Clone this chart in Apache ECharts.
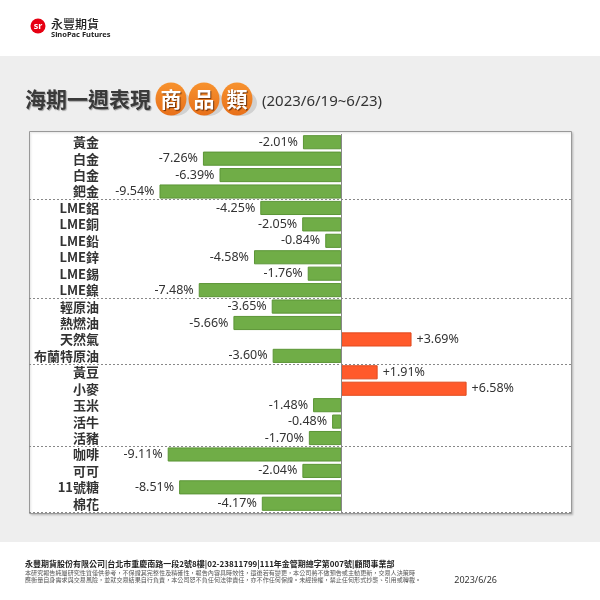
<!DOCTYPE html>
<html><head><meta charset="utf-8">
<script src="https://cdn.jsdelivr.net/npm/echarts@6/dist/echarts.min.js"></script>
<style>html,body{margin:0;padding:0;background:#fff}#c{width:600px;height:600px}</style>
</head><body><div id="c"></div>
<script>
const categories = ['黃金','白金','白金','鈀金','LME鋁','LME銅','LME鉛','LME鋅','LME錫','LME鎳','輕原油','熱燃油','天然氣','布蘭特原油','黃豆','小麥','玉米','活牛','活豬','咖啡','可可','11號糖','棉花'];
const changes = [-2.01,-7.26,-6.39,-9.54,-4.25,-2.05,-0.84,-4.58,-1.76,-7.48,-3.65,-5.66,3.69,-3.60,1.91,6.58,-1.48,-0.48,-1.70,-9.11,-2.04,-8.51,-4.17];
const groupStarts = [4,10,14,19];
const titleMain = '海期一週表現';
const titleBadges = ['商','品','類'];
const titleDate = '(2023/6/19~6/23)';
const footerLine1 = '永豐期貨股份有限公司|台北市重慶南路一段2號8樓|02-23811799|111年金管期總字第007號|顧問事業部';
const footerLine2 = '本研究報告純屬研究性質僅供參考，不保證其完整性及精確性，報告內容具時效性，還後若有變更，本公司將不做預告或主動更新，交易人決策時';
const footerLine3 = '應衡量自身需求與交易風險，並就交易結果自行負責，本公司恕不負任何法律責任，亦不作任何保證。未經授權，禁止任何形式抄襲、引用或轉載。';
const footerDate = '2023/6/26';

const GREEN = '#70AD47', GREEN_B = '#5B9536';
const ORANGE = '#FF5A2B', ORANGE_B = '#E04A1E';
const CJK = '"Noto Sans CJK TC","Noto Sans",sans-serif';
const NUM = '"Noto Sans","Noto Sans CJK TC",sans-serif';

const barData = changes.map(v => ({
  value: v,
  itemStyle: { color: v < 0 ? GREEN : ORANGE, borderColor: v < 0 ? GREEN_B : ORANGE_B, borderWidth: 1 },
  label: { position: v < 0 ? 'left' : 'right' }
}));

const badgeGraphics = [];
const badgeX = [171, 204, 237];
titleBadges.forEach((ch, i) => {
  badgeGraphics.push({ type:'ellipse', shape:{cx:badgeX[i]+4, cy:103, rx:16, ry:13}, style:{fill:'rgba(0,0,0,0.12)'}, z:1 });
  badgeGraphics.push({ type:'ellipse', shape:{cx:badgeX[i], cy:99, rx:15.5, ry:16.5},
    style:{ fill:{type:'linear',x:0,y:0,x2:0,y2:1,colorStops:[{offset:0,color:'#F7922E'},{offset:1,color:'#E8701A'}]} }, z:2 });
  badgeGraphics.push({ type:'text', x:badgeX[i], y:99, z:3,
    style:{ text:ch, fill:'#fff', font:'bold 21px '+CJK, align:'center', verticalAlign:'middle',
      textShadowColor:'rgba(80,30,0,0.8)', textShadowOffsetX:1, textShadowOffsetY:1, textShadowBlur:1 } });
});

const chart = echarts.init(document.getElementById('c'), null, {renderer:'canvas'});
chart.setOption({
  backgroundColor: '#fff',
  animation: false,
  graphic: [
    { type:'rect', shape:{x:0,y:56,width:600,height:486}, style:{fill:'#EEEEEE'}, z:-10 },
    { type:'rect', shape:{x:29.5,y:131.5,width:542,height:382}, style:{fill:'#fff', stroke:'#999', lineWidth:1,
      shadowColor:'rgba(0,0,0,0.15)', shadowBlur:2, shadowOffsetX:1, shadowOffsetY:1}, z:-9 },
    // logo
    { type:'circle', shape:{cx:38, cy:26, r:7.5}, style:{fill:'#E60012'} },
    { type:'text', x:38, y:26, style:{text:'sr', fill:'#fff', font:'bold 9px '+NUM, align:'center', verticalAlign:'middle'} },
    { type:'text', x:51, y:24.5, style:{text:'永豐期貨', fill:'#222', font:'500 12px '+CJK, verticalAlign:'middle'} },
    { type:'text', x:51, y:35, style:{text:'SinoPac Futures', fill:'#222', font:'bold 7.5px '+NUM, verticalAlign:'middle'} },
    // title
    { type:'text', x:25, y:99, style:{text:titleMain, fill:'#3a3a3a', font:'bold 21px '+CJK, verticalAlign:'middle',
      textShadowColor:'rgba(0,0,0,0.35)', textShadowOffsetX:1, textShadowOffsetY:1, textShadowBlur:1} },
    ...badgeGraphics,
    { type:'text', x:262, y:102, style:{text:titleDate, fill:'#333', font:'15px '+NUM, verticalAlign:'middle'} },
    // footer
    { type:'text', x:25, y:564, style:{text:footerLine1, fill:'#222', font:'bold 8px '+CJK, verticalAlign:'middle'} },
    { type:'text', x:25, y:573, style:{text:footerLine2, fill:'#555', font:'6.1px '+CJK, verticalAlign:'middle'} },
    { type:'text', x:25, y:579.5, style:{text:footerLine3, fill:'#555', font:'6.1px '+CJK, verticalAlign:'middle'} },
    { type:'text', x:497, y:580, style:{text:footerDate, fill:'#333', font:'9px '+NUM, align:'right', verticalAlign:'middle'} }
  ],
  grid: { left:29, right:29, top:134, height:378, containLabel:false },
  xAxis: { type:'value', min:-16.39, max:12.06, show:false },
  yAxis: {
    type:'category', inverse:true, data:categories,
    axisLine:{ show:false, onZero:false }, axisTick:{ show:false },
    axisLabel:{ interval:0, inside:true, align:'right', margin:70, color:'#333', fontWeight:'bold', fontSize:13, fontFamily:CJK },
    splitLine:{ show:true, interval:(idx) => groupStarts.includes(idx), lineStyle:{ color:'#888', type:[2,2], width:1 } }
  },
  series: [{
    type:'bar', data:barData, barCategoryGap:'14%',
    label:{ show:true, distance:5, color:'#333', fontSize:12.5, fontFamily:NUM,
      formatter:(p) => (p.value > 0 ? '+' : '') + p.value.toFixed(2) + '%' },
    markLine:{ silent:true, symbol:'none', label:{show:false}, lineStyle:{ color:'#888', type:'solid', width:1 }, data:[{ xAxis:0 }] }
  }]
});
</script></body></html>
